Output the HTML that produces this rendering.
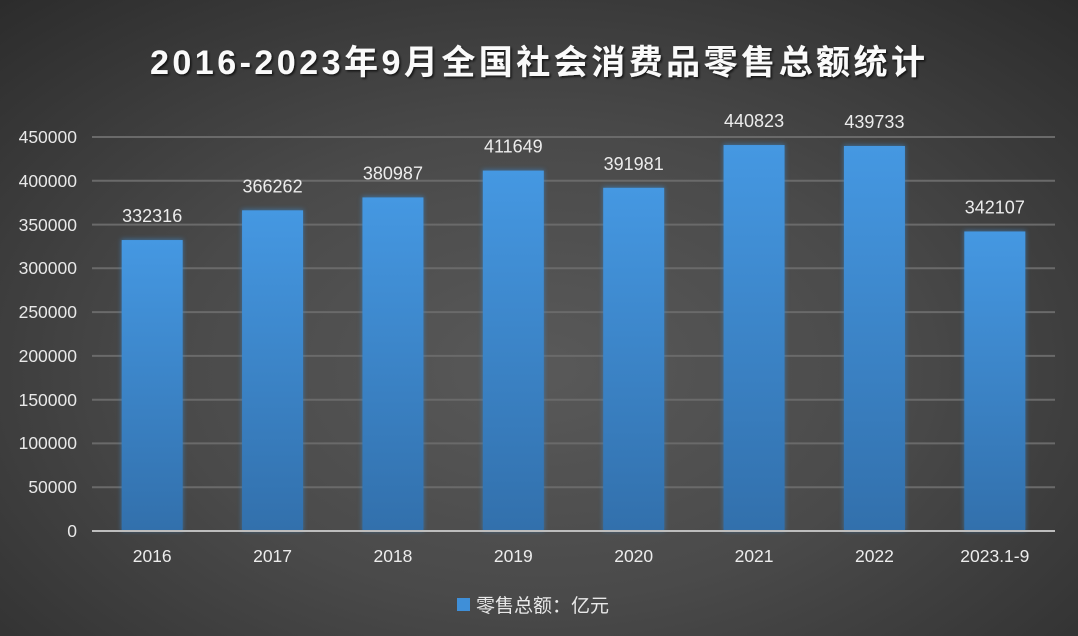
<!DOCTYPE html>
<html><head><meta charset="utf-8"><style>
html,body{margin:0;padding:0;}
body{width:1078px;height:636px;overflow:hidden;background:radial-gradient(ellipse 75% 80% at 50% 58%,#595959 0%,#4a4a4a 45%,#2b2b2b 100%);font-family:"Liberation Sans","Noto Sans CJK SC",sans-serif;}
</style></head><body>
<svg width="1078" height="636" xmlns="http://www.w3.org/2000/svg" style="position:absolute;left:0;top:0">
<defs>
<linearGradient id="bg" x1="0" y1="0" x2="0" y2="1">
<stop offset="0" stop-color="#4598e2"/><stop offset="1" stop-color="#3270ac"/>
</linearGradient>
<filter id="gl" x="-20%" y="-10%" width="140%" height="120%"><feGaussianBlur stdDeviation="2.5"/></filter>
<filter id="ts"><feDropShadow dx="1.5" dy="1.5" stdDeviation="1" flood-color="#000" flood-opacity="0.7"/></filter>
</defs>
<text x="150" y="74" textLength="775" lengthAdjust="spacing" fill="#fafafa" font-size="34" font-weight="bold" filter="url(#ts)" font-family="'Liberation Sans','Noto Sans CJK SC',sans-serif">2016-2023年9月全国社会消费品零售总额统计</text>
<g stroke="#6a6a6a" stroke-width="2">
<line x1="92" y1="137" x2="1055" y2="137"/><line x1="92" y1="180.8" x2="1055" y2="180.8"/><line x1="92" y1="224.6" x2="1055" y2="224.6"/><line x1="92" y1="268.3" x2="1055" y2="268.3"/><line x1="92" y1="312.1" x2="1055" y2="312.1"/><line x1="92" y1="355.9" x2="1055" y2="355.9"/><line x1="92" y1="399.7" x2="1055" y2="399.7"/><line x1="92" y1="443.4" x2="1055" y2="443.4"/><line x1="92" y1="487.2" x2="1055" y2="487.2"/>
</g>
<g fill="#e8e8e8" font-size="17.5" text-anchor="end">
<text x="77" y="143">450000</text><text x="77" y="187">400000</text><text x="77" y="231">350000</text><text x="77" y="274">300000</text><text x="77" y="318">250000</text><text x="77" y="362">200000</text><text x="77" y="406">150000</text><text x="77" y="449">100000</text><text x="77" y="493">50000</text><text x="77" y="537">0</text>
</g>
<g id="bars"></g>
<line x1="92" y1="531" x2="1055" y2="531" stroke="#bdbdbd" stroke-width="2"/>
<g fill="#ececec" font-size="17.5" text-anchor="middle" id="xl"></g>
<g fill="#ececec" font-size="18" text-anchor="middle" id="vl"></g>
<rect x="457" y="598" width="13" height="13" fill="#3f8fd8"/>
<text x="476" y="612" fill="#e8e8e8" font-size="19">零售总额：亿元</text>
</svg>
<script>
var v=[332316,366262,380987,411649,391981,440823,439733,342107];
var c=["2016","2017","2018","2019","2020","2021","2022","2023.1-9"];
var ns="http://www.w3.org/2000/svg",b=document.getElementById("bars"),xl=document.getElementById("xl"),vl=document.getElementById("vl");
for(var i=0;i<8;i++){var cx=92+120.375*(i+0.5),h=v[i]/450000*394,t=531-h;
var g=document.createElementNS(ns,"rect");g.setAttribute("x",cx-31);g.setAttribute("y",t-1);g.setAttribute("width",62);g.setAttribute("height",h+1);g.setAttribute("fill","#3a86c8");g.setAttribute("opacity","0.6");g.setAttribute("filter","url(#gl)");b.appendChild(g);
var r=document.createElementNS(ns,"rect");r.setAttribute("x",cx-30.5);r.setAttribute("y",t);r.setAttribute("width",61);r.setAttribute("height",h);r.setAttribute("fill","url(#bg)");b.appendChild(r);
var a=document.createElementNS(ns,"text");a.setAttribute("x",cx);a.setAttribute("y",562);a.textContent=c[i];xl.appendChild(a);
var d=document.createElementNS(ns,"text");d.setAttribute("x",cx);d.setAttribute("y",t-18);d.textContent=v[i];vl.appendChild(d);}
</script>
</body></html>
